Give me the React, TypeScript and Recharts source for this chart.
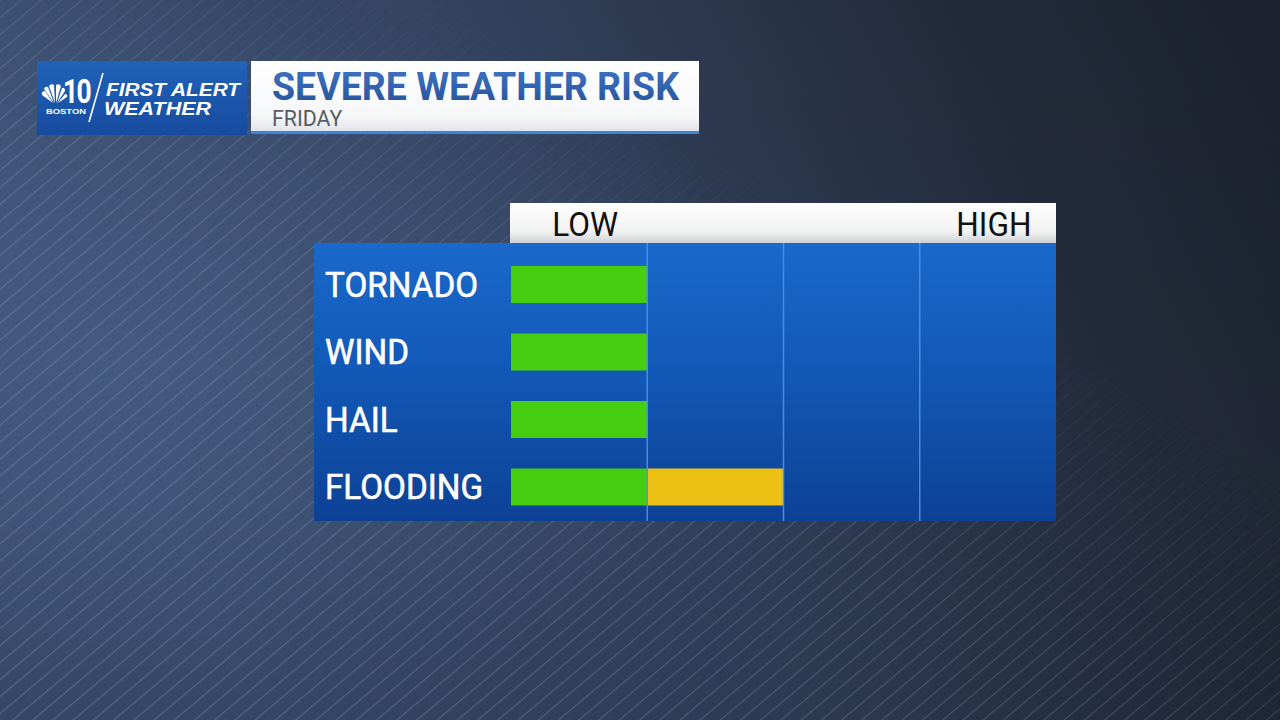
import React from 'react';
import { BarChart, Bar, XAxis, YAxis, ReferenceLine } from 'recharts';

const hazards = ['TORNADO', 'WIND', 'HAIL', 'FLOODING'];
const lowRisk = [1, 1, 1, 1];
const elevatedRisk = [0, 0, 0, 1];
const scaleTicks = [0.5, 3.5];
const scaleLabels = ['LOW', 'HIGH'];
const dividers = [1, 2, 3];
const titleText = 'SEVERE WEATHER RISK';
const subtitleText = 'FRIDAY';

const data = hazards.map((h, i) => ({ hazard: h, low: lowRisk[i], elevated: elevatedRisk[i] }));

const FONT = 'Roboto, "Noto Sans", sans-serif';
const SQUEEZE = 0.93;

const HazardTick = (props: any) => {
  const { y, payload } = props;
  return (
    <text
      transform={`translate(325,${y + 12}) scale(0.95,1)`}
      fill="#ffffff"
      fontSize={35}
      fontWeight={400}
      fontFamily={FONT}
      textAnchor="start"
      stroke="#ffffff"
      strokeWidth={0.6}
    >
      {payload.value}
    </text>
  );
};

const ScaleTick = (props: any) => {
  const { x, payload } = props;
  const idx = scaleTicks.indexOf(payload.value);
  return (
    <text
      transform={`translate(${x + 6},236) scale(${SQUEEZE},1)`}
      fill="#111111"
      fontSize={34}
      fontFamily={FONT}
      textAnchor="middle"
    >
      {scaleLabels[idx]}
    </text>
  );
};

const Decor = () => (
  <svg width={1280} height={720} style={{ position: 'absolute', left: 0, top: 0 }}>
    <defs>
      <linearGradient id="bg" x1="0" y1="0.3" x2="1" y2="0">
        <stop offset="0" stopColor="#3e5377" />
        <stop offset="0.4" stopColor="#33435f" />
        <stop offset="0.75" stopColor="#232b3b" />
        <stop offset="1" stopColor="#1b212d" />
      </linearGradient>
      <linearGradient id="bottomShade" x1="0" y1="0" x2="0" y2="1">
        <stop offset="0" stopColor="#000000" stopOpacity="0" />
        <stop offset="0.7" stopColor="#000000" stopOpacity="0.05" />
        <stop offset="1" stopColor="#000000" stopOpacity="0.15" />
      </linearGradient>
      <radialGradient id="glow" cx="0.12" cy="0.5" r="0.5">
        <stop offset="0" stopColor="#4e6690" stopOpacity="0.55" />
        <stop offset="1" stopColor="#4e6690" stopOpacity="0" />
      </radialGradient>
      <pattern id="stripes" width="13" height="13" patternUnits="userSpaceOnUse" patternTransform="rotate(50)">
        <rect x="0" y="0" width="1.2" height="13" fill="#c8d6f0" fillOpacity="0.22" />
      </pattern>
      <linearGradient id="stripeFade" x1="0" y1="1" x2="1" y2="0">
        <stop offset="0" stopColor="#fff" stopOpacity="1" />
        <stop offset="0.45" stopColor="#fff" stopOpacity="0.85" />
        <stop offset="0.7" stopColor="#fff" stopOpacity="0" />
      </linearGradient>
      <mask id="fadeMask">
        <rect x="0" y="0" width="1280" height="720" fill="url(#stripeFade)" />
      </mask>
      <linearGradient id="panel" x1="0" y1="0" x2="0" y2="1">
        <stop offset="0" stopColor="#1a69cb" />
        <stop offset="0.5" stopColor="#1157b5" />
        <stop offset="1" stopColor="#0d4195" />
      </linearGradient>
      <linearGradient id="hdr" x1="0" y1="0" x2="0" y2="1">
        <stop offset="0" stopColor="#ffffff" />
        <stop offset="0.7" stopColor="#f2f2f2" />
        <stop offset="1" stopColor="#cfd2d6" />
      </linearGradient>
      <linearGradient id="titleBox" x1="0" y1="0" x2="0" y2="1">
        <stop offset="0" stopColor="#ffffff" />
        <stop offset="0.75" stopColor="#f6f7f9" />
        <stop offset="1" stopColor="#dde1e7" />
      </linearGradient>
      <linearGradient id="logoBox" x1="0" y1="0" x2="0" y2="1">
        <stop offset="0" stopColor="#2063b9" />
        <stop offset="1" stopColor="#174b9f" />
      </linearGradient>
      <linearGradient id="titleInk" x1="0" y1="0" x2="0" y2="1">
        <stop offset="0" stopColor="#4076c6" />
        <stop offset="1" stopColor="#244f97" />
      </linearGradient>
    </defs>
    <rect x={0} y={0} width={1280} height={720} fill="url(#bg)" />
    <rect x={0} y={0} width={1280} height={720} fill="url(#glow)" />
    <rect x={0} y={0} width={1280} height={720} fill="url(#bottomShade)" />
    <rect x={0} y={0} width={1280} height={720} fill="url(#stripes)" mask="url(#fadeMask)" />

    {/* logo box */}
    <rect x={37} y={61} width={210} height={74} fill="url(#logoBox)" />
    <g fill="#ffffff">
      <path d="M53 103 L42 95 Q41 91 45 91 Z" />
      <path d="M54 103 L44 89 Q45 86 48 87 Z" />
      <path d="M55 103 L49 86 Q51 83 54 85 Z" />
      <path d="M56 103 L56 85 Q59 83 61 86 Z" />
      <path d="M57 103 L62 88 Q65 87 65 91 Z" />
      <path d="M58 103 L65 94 Q68 94 67 97 Z" />
    </g>
    <text transform="translate(63,103) scale(0.8,1)" fill="#ffffff" fontSize={33} fontWeight="bold" fontFamily={FONT} letterSpacing={-2}>10</text>
    <text x={46} y={113.5} fill="#ffffff" fontSize={7} fontWeight="bold" fontFamily="Liberation Sans, Arial, sans-serif" textLength={40} lengthAdjust="spacingAndGlyphs">BOSTON</text>
    <line x1={89} y1={122} x2={103} y2={73} stroke="#ffffff" strokeWidth={1.6} />
    <text x={106} y={96} fill="#ffffff" fontSize={19} fontWeight="bold" fontStyle="italic" fontFamily="Liberation Sans, Arial, sans-serif" textLength={134} lengthAdjust="spacingAndGlyphs">FIRST ALERT</text>
    <text x={104} y={115} fill="#ffffff" fontSize={19} fontWeight="bold" fontStyle="italic" fontFamily="Liberation Sans, Arial, sans-serif" textLength={107} lengthAdjust="spacingAndGlyphs">WEATHER</text>

    {/* title box */}
    <rect x={251} y={61} width={448} height={73} fill="url(#titleBox)" />
    <rect x={251} y={131} width={448} height={3} fill="#3b86dc" />
    <text x={272} y={100} fill="url(#titleInk)" fontSize={39} fontWeight="bold" fontFamily={FONT} textLength={407} lengthAdjust="spacingAndGlyphs">{titleText}</text>
    <text transform={`translate(272,126) scale(${SQUEEZE},1)`} fill="#575c63" fontSize={23} fontFamily={FONT}>{subtitleText}</text>

    {/* chart panel */}
    <rect x={510} y={203} width={546} height={40} fill="url(#hdr)" />
    <rect x={314} y={243} width={742} height={278} fill="url(#panel)" />
  </svg>
);

export default function App() {
  return (
    <div style={{ position: 'fixed', left: 0, top: 0, width: 1280, height: 720, overflow: 'hidden' }}>
      <Decor />
      <div style={{ position: 'absolute', left: 0, top: 0 }}>
        <BarChart
          width={1280}
          height={720}
          data={data}
          layout="vertical"
          margin={{ top: 203, right: 224, bottom: 199, left: 314 }}
          barSize={37}
        >
          <XAxis
            type="number"
            orientation="top"
            domain={[0, 4]}
            ticks={scaleTicks}
            height={40}
            axisLine={false}
            tickLine={false}
            tick={<ScaleTick />}
            allowDataOverflow
          />
          <YAxis
            type="category"
            dataKey="hazard"
            width={197}
            axisLine={false}
            tickLine={false}
            tick={<HazardTick />}
            padding={{ top: 8, bottom: 0 }}
          />
          {dividers.map((d) => (
            <ReferenceLine key={d} x={d} stroke="#4d92e6" strokeOpacity={0.9} strokeWidth={1.5} />
          ))}
          <Bar dataKey="low" stackId="risk" fill="#45cd0f" isAnimationActive={false} />
          <Bar dataKey="elevated" stackId="risk" fill="#ecc014" isAnimationActive={false} />
        </BarChart>
      </div>
    </div>
  );
}
